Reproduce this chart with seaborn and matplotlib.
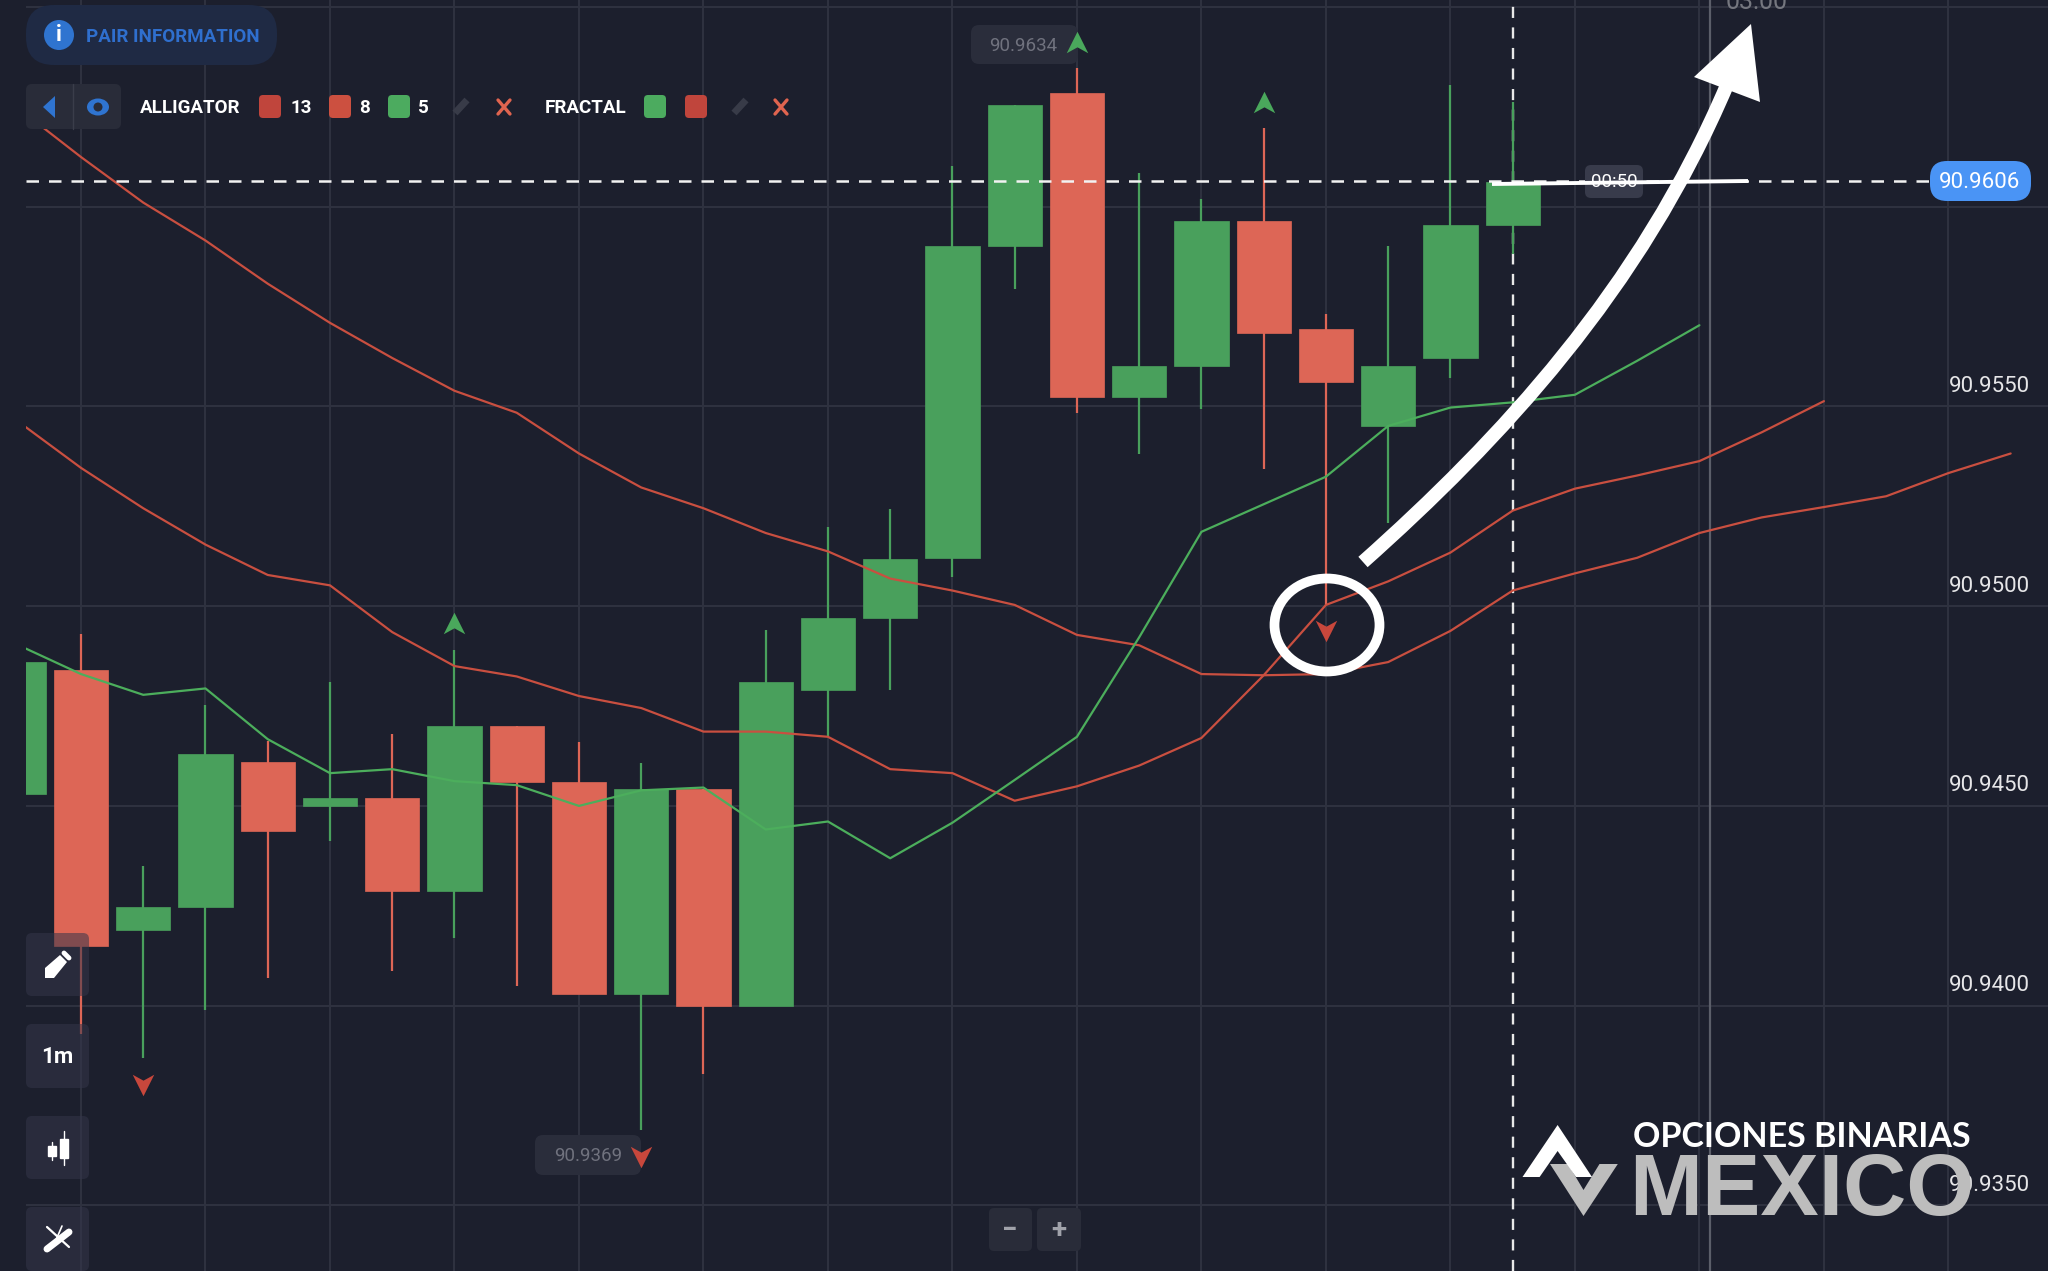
import matplotlib
matplotlib.use("Agg")
import matplotlib.pyplot as plt
import numpy as np
import pandas as pd
import seaborn as sns
from matplotlib.patches import Circle, Ellipse, FancyBboxPatch, PathPatch, Polygon, Rectangle
from matplotlib.path import Path

# ==========================================
# Data
# ==========================================
candle_index = list(range(-1, 24))
candle_open = [90.94529, 90.94840, 90.94190, 90.94248, 90.94611, 90.94500, 90.94520, 90.94288, 90.94699,
               90.94559, 90.94029, 90.94542, 90.94000, 90.94791, 90.94971, 90.95121, 90.95902, 90.96284,
               90.95523, 90.95601, 90.95964, 90.95693, 90.95451, 90.95621, 90.95954]
candle_close = [90.94860, 90.94150, 90.94248, 90.94631, 90.94438, 90.94520, 90.94288, 90.94699, 90.94559,
                90.94029, 90.94542, 90.94000, 90.94810, 90.94971, 90.95118, 90.95902, 90.96255, 90.95523,
                90.95601, 90.95964, 90.95683, 90.95562, 90.95601, 90.95954, 90.96062]
candle_high = [90.94860, 90.94931, 90.94350, 90.94752, 90.94663, 90.94810, 90.94680, 90.94889, 90.94699,
               90.94660, 90.94608, 90.94542, 90.94941, 90.95199, 90.95242, 90.96101, 90.96255, 90.96346,
               90.96085, 90.96020, 90.96196, 90.95732, 90.95902, 90.96304, 90.96262]
candle_low = [90.94529, 90.93928, 90.93869, 90.93990, 90.94069, 90.94412, 90.94088, 90.94170, 90.94049,
              90.94029, 90.93690, 90.93830, 90.94000, 90.94676, 90.94791, 90.95072, 90.95794, 90.95484,
              90.95382, 90.95494, 90.95343, 90.95003, 90.95209, 90.95572, 90.95882]

# alligator lines start one candle off the left edge
alligator_13 = [90.96245, 90.96124, 90.96010, 90.95915, 90.95807, 90.95709, 90.95621, 90.95539, 90.95484,
                90.95382, 90.95297, 90.95245, 90.95183, 90.95137, 90.95069, 90.95039, 90.95003, 90.94928,
                90.94902, 90.94830, 90.94827, 90.94830, 90.94860, 90.94938, 90.95039, 90.95082, 90.95121,
                90.95183, 90.95222, 90.95248, 90.95275, 90.95333, 90.95382]
alligator_8 = [90.95461, 90.95346, 90.95245, 90.95154, 90.95078, 90.95052, 90.94935, 90.94850, 90.94824,
               90.94775, 90.94745, 90.94686, 90.94686, 90.94673, 90.94592, 90.94582, 90.94513, 90.94549,
               90.94601, 90.94670, 90.94827, 90.95003, 90.95062, 90.95134, 90.95239, 90.95294, 90.95327,
               90.95363, 90.95435, 90.95513]
alligator_5 = [90.94902, 90.94830, 90.94778, 90.94794, 90.94667, 90.94582, 90.94592, 90.94562, 90.94552,
               90.94500, 90.94539, 90.94546, 90.94441, 90.94461, 90.94369, 90.94458, 90.94565, 90.94673,
               90.94922, 90.95186, 90.95255, 90.95324, 90.95451, 90.95497, 90.95510, 90.95529, 90.95614,
               90.95703]

fractal_up_x = [6, 16, 19]
fractal_up_y = [90.94958, 90.96412, 90.96262]
fractal_down_x = [1, 9, 20]
fractal_down_y = [90.93801, 90.93621, 90.94938]

price_ticks = [90.9350, 90.9400, 90.9450, 90.9500, 90.9550, 90.9600, 90.9650]
price_labels = ["90.9350", "90.9400", "90.9450", "90.9500", "90.9550"]
current_price = 90.96063

BG = "#1c1f2d"
GRID = "#2f3240"
RED_BODY = "#dd6656"
GREEN_BODY = "#49a05c"
RED_LINE = "#c94f40"
GREEN_LINE = "#4cae5c"

# ==========================================
# Figure and axes
# ==========================================
sns.set_theme(style="dark", rc={"axes.facecolor": BG, "figure.facecolor": BG})
plt.rcParams["font.family"] = ["Roboto", "DejaVu Sans"]

fig = plt.figure(figsize=(20.48, 12.71), dpi=100)
ax = fig.add_axes([26 / 2048, 0, 1 - 26 / 2048, 1])
ui = fig.add_axes([0, 0, 1, 1], zorder=5)
ui.set_xlim(0, 2048)
ui.set_ylim(1271, 0)
ui.axis("off")
ui.patch.set_alpha(0)

XLIM = (-0.8835, 31.6)
YLIM = (90.93336, 90.96517)
ax.set_xlim(*XLIM)
ax.set_ylim(*YLIM)
ax.set_xticks(range(0, 32, 2))
ax.set_yticks(price_ticks)
ax.set_xlabel("")
ax.set_ylabel("")
ax.tick_params(length=0, labelleft=False, labelbottom=False)
ax.grid(True, color=GRID, linewidth=1.4)
ax.set_axisbelow(True)
sns.despine(ax=ax, left=True, bottom=True)


def box(target, x0, y0, x1, y1, color, r=8, alpha=1.0, z=2, trans=None):
    p = FancyBboxPatch((x0, y0), x1 - x0, y1 - y0, boxstyle=f"round,pad=0,rounding_size={r}",
                       facecolor=color, edgecolor="none", alpha=alpha, zorder=z,
                       transform=trans if trans is not None else target.transData)
    target.add_patch(p)


# ==========================================
# Candles
# ==========================================
candles = pd.DataFrame({"i": candle_index, "open": candle_open, "close": candle_close,
                        "high": candle_high, "low": candle_low})
candles["up"] = candles["close"] > candles["open"]
candles["color"] = np.where(candles["up"], GREEN_BODY, RED_BODY)
candles["bottom"] = candles[["open", "close"]].min(axis=1)
candles["height"] = (candles["close"] - candles["open"]).abs()

ax.axvline(23, color="#e8e8e8", linewidth=1.7, linestyle=(0, (4.7, 4)), zorder=2.5)
ax.axvline(26.17, color="#5b5e69", linewidth=1.6, zorder=2)

ax.vlines(candles["i"], candles["low"], candles["high"], colors=candles["color"], linewidth=1.6, zorder=3)
ax.bar(candles["i"], candles["height"], bottom=candles["bottom"], width=0.87,
       color=candles["color"], edgecolor=candles["color"], linewidth=0.5, zorder=4)

# ==========================================
# Alligator lines
# ==========================================
for values, colour in [(alligator_13, RED_LINE), (alligator_8, RED_LINE), (alligator_5, GREEN_LINE)]:
    sns.lineplot(x=list(range(-1, len(values) - 1)), y=values, color=colour, linewidth=1.6,
                 ax=ax, zorder=5, estimator=None, errorbar=None)

ax.set_xlim(*XLIM)
ax.set_ylim(*YLIM)

# ==========================================
# Fractal arrows
# ==========================================
up_arrow = Path([(0, 1), (1, -1), (0, -0.45), (-1, -1), (0, 1)],
                [Path.MOVETO, Path.LINETO, Path.LINETO, Path.LINETO, Path.CLOSEPOLY])
down_arrow = Path([(0, -1), (1, 1), (0, 0.45), (-1, 1), (0, -1)],
                  [Path.MOVETO, Path.LINETO, Path.LINETO, Path.LINETO, Path.CLOSEPOLY])
sns.scatterplot(x=fractal_up_x, y=fractal_up_y, marker=up_arrow, s=240, color="#4aa85c",
                linewidth=0, ax=ax, zorder=7)
sns.scatterplot(x=fractal_down_x, y=fractal_down_y, marker=down_arrow, s=240, color="#c8473c",
                linewidth=0, ax=ax, zorder=7)

# chips behind the arrows
box(ax, 971, 25, 1078, 64, "#2a2d3b", r=8, z=6, trans=ui.transData)
box(ax, 535, 1135, 641, 1175, "#2a2d3b", r=8, z=6, trans=ui.transData)
ax.text(1023, 46, "90.9634", color="#70727e", fontsize=13.5, ha="center", va="center",
        transform=ui.transData, zorder=6.5)
ax.text(588, 1156, "90.9369", color="#70727e", fontsize=13.5, ha="center", va="center",
        transform=ui.transData, zorder=6.5)

# ==========================================
# Price axis, current price, timer
# ==========================================
for label in price_labels:
    ax.annotate(label, xy=(1, float(label)), xycoords=ax.get_yaxis_transform(),
                xytext=(-59 * 0.72, 20 * 0.72), textcoords="offset points",
                ha="center", va="center", color="#e6e6e8", fontsize=16, zorder=8)

ax.hlines(current_price, XLIM[0], 29.9, color="#f2f2f2", linewidth=1.8, linestyles=(0, (5, 4)), zorder=6)

ui.text(1757, 2, "03:00", color="#75777f", fontsize=18, ha="center", va="center")
box(ui, 1585, 165, 1643, 198, "#383b4b", r=6, z=2)
ui.plot([1492, 1748], [184, 181], color="white", linewidth=2.8, solid_capstyle="butt", zorder=3)
ui.plot([1690, 1732], [182, 182], color="#7fe08a", linewidth=1.2, zorder=2.5)
ui.text(1614, 182, "00:50", color="white", fontsize=13.5, ha="center", va="center", zorder=4)

box(ui, 1930, 161, 2031, 201, "#4a94f5", r=17, z=3)
ui.text(1980, 183, "90.9606", color="white", fontsize=16, ha="center", va="center", zorder=4)

# ==========================================
# Top left toolbar
# ==========================================
box(ui, 26, 5, 277, 65, "#1f2a44", r=28)
ui.add_patch(Circle((59, 35), 15, facecolor="#2f74d0", edgecolor="none", zorder=3))
ui.text(59, 35, "i", color="white", fontsize=16, fontweight="bold", ha="center", va="center", zorder=4)
ui.text(86, 36.5, "PAIR INFORMATION", color="#2f6fce", fontsize=13.5, fontweight="bold", va="center", zorder=4)

box(ui, 26, 84, 121, 129, "#292c39", r=6)
ui.plot([73, 73], [84, 129], color="#3a3d4a", linewidth=1, zorder=3)
ui.add_patch(Polygon([(43, 107), (55, 96), (55, 118)], facecolor="#2f74d0", edgecolor="none", zorder=4))
ui.add_patch(Ellipse((98, 107), 22, 17, facecolor="#2f74d0", edgecolor="none", zorder=4))
ui.add_patch(Circle((98, 107), 4.5, facecolor="#292c39", edgecolor="none", zorder=5))

ui.text(140, 108, "ALLIGATOR", color="white", fontsize=13.5, fontweight="bold", va="center", zorder=4)
box(ui, 259, 95, 281, 118, "#c0453c", r=4)
ui.text(290, 108, "13", color="white", fontsize=13.5, fontweight="bold", va="center", zorder=4)
box(ui, 329, 95, 351, 118, "#cc5040", r=4)
ui.text(359, 108, "8", color="white", fontsize=13.5, fontweight="bold", va="center", zorder=4)
box(ui, 388, 95, 410, 118, "#4cab5f", r=4)
ui.text(418, 108, "5", color="white", fontsize=13.5, fontweight="bold", va="center", zorder=4)
ui.text(545, 108, "FRACTAL", color="white", fontsize=13.5, fontweight="bold", va="center", zorder=4)
box(ui, 644, 95, 666, 118, "#4cab5f", r=4)
box(ui, 685, 95, 707, 118, "#c0453c", r=4)

for px in [461, 740]:
    ui.plot([px - 6, px + 6], [113, 100], color="#383b48", linewidth=5, solid_capstyle="butt", zorder=3)
for px in [504, 781]:
    ui.plot([px - 6, px + 6], [100, 114], color="#e0644f", linewidth=2.4, zorder=3)
    ui.plot([px - 6, px + 6], [114, 100], color="#e0644f", linewidth=2.4, zorder=3)

# ==========================================
# Left side buttons
# ==========================================
for y0, y1 in [(933, 996), (1024, 1088), (1116, 1179), (1207, 1271)]:
    box(ui, 26, y0, 89, y1, "#34364a", r=6, alpha=0.55)

# pencil
ui.add_patch(Polygon([(45, 978), (45, 968), (60, 955), (67, 962), (54, 978)], facecolor="white",
                     edgecolor="none", zorder=4))
ui.plot([64, 69], [953, 958], color="white", linewidth=3.5, solid_capstyle="round", zorder=4)
ui.text(57.5, 1057, "1m", color="white", fontsize=16, fontweight="bold", ha="center", va="center", zorder=4)
# candles icon
ui.plot([52, 52], [1142, 1160], color="white", linewidth=1, zorder=4)
ui.plot([64, 64], [1131, 1165], color="white", linewidth=1, zorder=4)
ui.add_patch(Rectangle((48, 1146), 8, 10, facecolor="white", zorder=4))
ui.add_patch(Rectangle((60, 1139), 8, 19, facecolor="white", zorder=4))
# tools icon
ui.plot([47, 69], [1249, 1232], color="white", linewidth=5, zorder=4)
ui.plot([47, 69], [1227, 1247], color="white", linewidth=1.6, zorder=4)
ui.plot([53, 62], [1247, 1226], color="white", linewidth=1.2, zorder=4)

# zoom buttons
box(ui, 989, 1208, 1032, 1251, "#292c39", r=5)
box(ui, 1037, 1208, 1081, 1251, "#292c39", r=5)
ui.text(1010, 1231, "\u2212", color="#a0a2aa", fontsize=20, fontweight="bold", ha="center", va="center", zorder=4)
ui.text(1059, 1231, "+", color="#a0a2aa", fontsize=20, fontweight="bold", ha="center", va="center", zorder=4)

# ==========================================
# Hand drawn annotations
# ==========================================
shaft = Path([(1363, 562), (1500, 440), (1640, 290), (1727, 85)],
             [Path.MOVETO, Path.CURVE4, Path.CURVE4, Path.CURVE4])
ui.add_patch(PathPatch(shaft, facecolor="none", edgecolor="white", linewidth=10, capstyle="butt", zorder=6))
ui.add_patch(Polygon([(1751, 24), (1694, 77), (1760, 102)], facecolor="white", edgecolor="none", zorder=6))
ui.add_patch(Ellipse((1327, 625), 105, 93, facecolor="none", edgecolor="white", linewidth=7, zorder=6))

# ==========================================
# Watermark
# ==========================================
ui.add_patch(Polygon([(1550, 1164), (1568, 1164), (1583.5, 1190), (1599.5, 1164), (1617.8, 1164), (1583.5, 1216)],
                     facecolor="#bdbdbd", edgecolor="none", zorder=7))
ui.add_patch(Polygon([(1557.6, 1125), (1592, 1177), (1576, 1177), (1557.6, 1151), (1539.6, 1177), (1522.5, 1177)],
                     facecolor="white", edgecolor="none", zorder=7))
ui.text(1802, 1137, "OPCIONES BINARIAS", color="white", fontsize=24.5, fontweight="bold",
        family=["Lato", "DejaVu Sans"], ha="center", va="center", zorder=7)
ui.text(1802, 1192, "MEXICO", color="#bdbdbd", fontsize=63, fontweight="bold",
        family=["Liberation Sans", "DejaVu Sans"], ha="center", va="center", zorder=7)

fig.savefig("out.png", dpi=100, facecolor=BG)
